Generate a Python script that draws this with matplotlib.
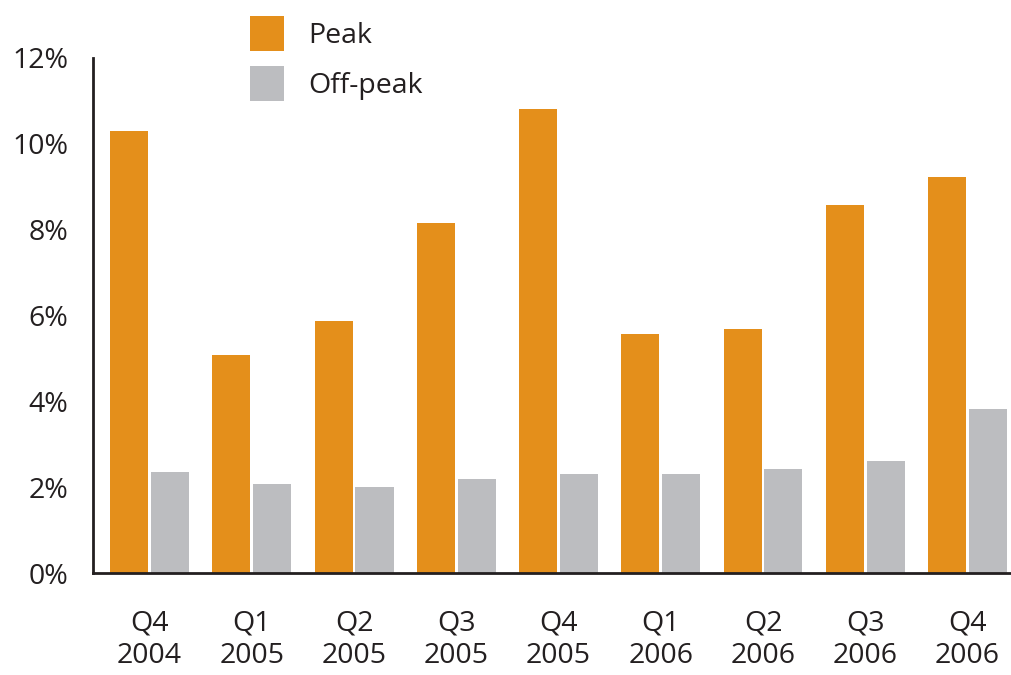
import matplotlib
matplotlib.use("Agg")
import matplotlib.pyplot as plt
import numpy as np

categories = ["Q4\n2004", "Q1\n2005", "Q2\n2005", "Q3\n2005", "Q4\n2005",
              "Q1\n2006", "Q2\n2006", "Q3\n2006", "Q4\n2006"]
peak = [10.30, 5.08, 5.87, 8.16, 10.81, 5.57, 5.69, 8.58, 9.23]
off_peak = [2.35, 2.07, 2.00, 2.19, 2.31, 2.31, 2.42, 2.61, 3.82]
yticks = [0, 2, 4, 6, 8, 10, 12]
ytick_labels = ["0%", "2%", "4%", "6%", "8%", "10%", "12%"]

ORANGE = "#E48F1B"
GRAY = "#BCBDC0"
TEXT = "#231F20"

plt.rcParams["font.family"] = ["Open Sans", "DejaVu Sans"]

fig = plt.figure(figsize=(10.12, 6.75), dpi=100)
ax = fig.add_axes([93 / 1012, 102 / 675, 1 - 93 / 1012, (573 - 58) / 675])

x = np.arange(len(categories))
w = 0.372
off = 0.20
ax.bar(x - off, peak, width=w, color=ORANGE, label="Peak")
ax.bar(x + off, off_peak, width=w, color=GRAY, label="Off-peak")

ax.set_xlim(-0.553, 8.435)
ax.set_ylim(0, 12)
ax.set_yticks(yticks)
ax.set_yticklabels(ytick_labels)
ax.set_xticks(x)
ax.set_xticklabels(categories, linespacing=1.25)
ax.tick_params(axis="both", length=0, labelsize=20.5, labelcolor=TEXT)
ax.tick_params(axis="y", pad=18)
ax.tick_params(axis="x", pad=26)

for s in ["top", "right"]:
    ax.spines[s].set_visible(False)
for s in ["left", "bottom"]:
    ax.spines[s].set_color(TEXT)
    ax.spines[s].set_linewidth(2)

leg = fig.legend(loc="upper left", bbox_to_anchor=(250 / 1012, (675 - 16) / 675),
                 frameon=False, fontsize=20.5, handlelength=1.2, handleheight=1.5,
                 labelspacing=0.55, handletextpad=0.85, borderpad=0, borderaxespad=0)
for t in leg.get_texts():
    t.set_color(TEXT)

fig.savefig("out.png", dpi=100)
